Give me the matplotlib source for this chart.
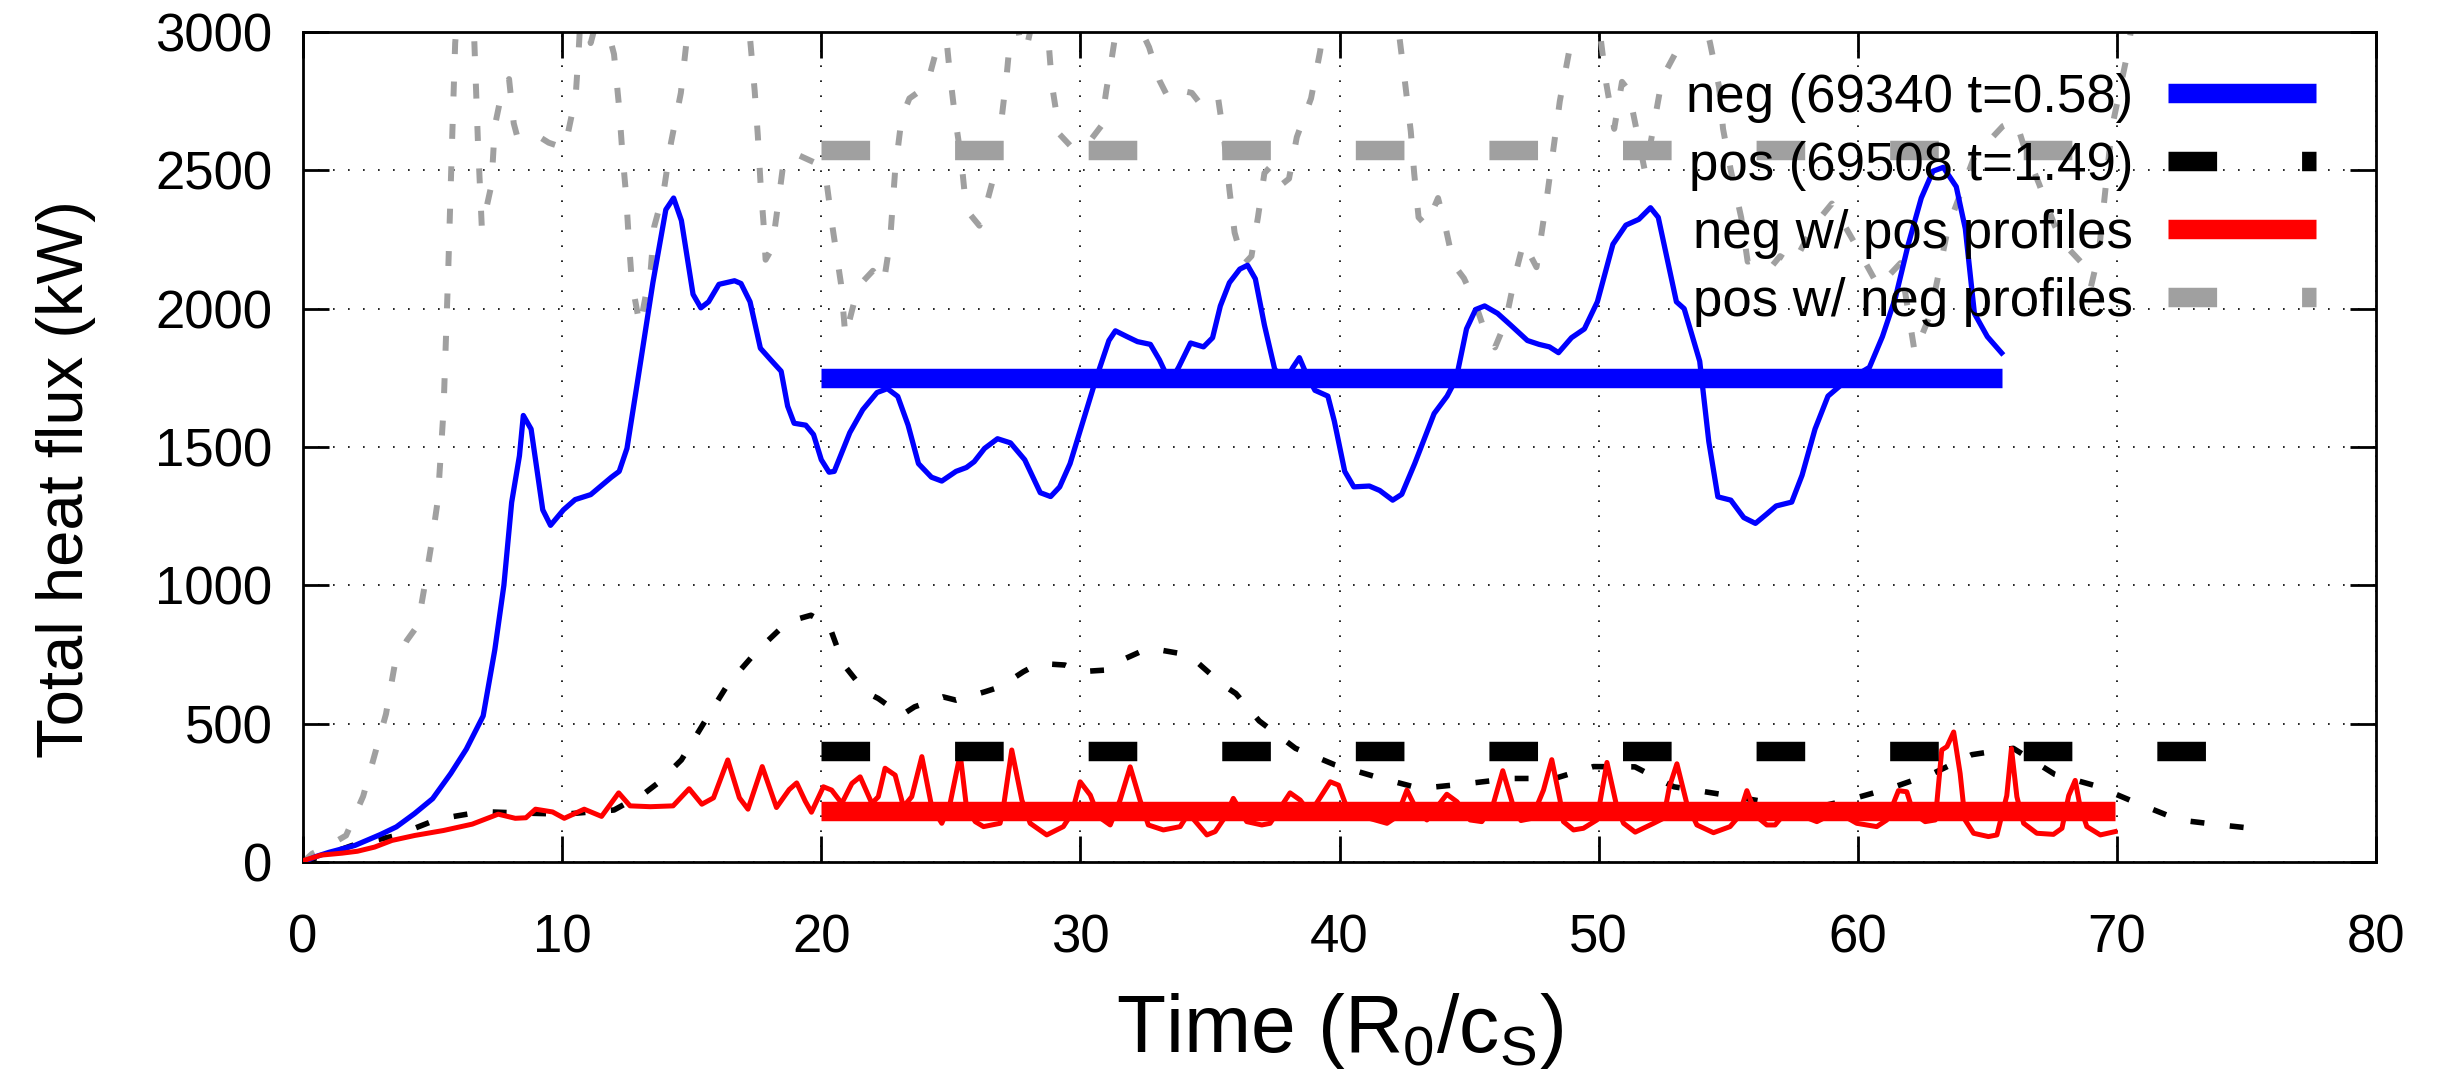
import numpy as np
import matplotlib
matplotlib.use('Agg')
import matplotlib.pyplot as plt

plt.rcParams['font.family'] = ['Liberation Sans', 'DejaVu Sans']

# neg discharge (blue)
neg_t = [0.0, 0.5, 1.0, 2.0, 3.0, 3.6, 4.3, 5.0, 5.7, 6.3, 6.95, 7.4, 7.75, 8.05, 8.35, 8.5,
         8.8, 9.25, 9.55, 10.05, 10.5, 11.1, 11.9, 12.2, 12.5, 12.9, 13.5, 14.0, 14.3, 14.6,
         15.05, 15.35, 15.65, 16.05, 16.65, 16.9, 17.25, 17.65, 18.05, 18.45, 18.7, 18.95,
         19.4, 19.7, 20.0, 20.3, 20.5, 21.1, 21.6, 22.15, 22.55, 22.95, 23.35, 23.75, 24.25,
         24.65, 25.2, 25.6, 25.9, 26.3, 26.8, 27.3, 27.85, 28.45, 28.85, 29.2, 29.6, 30.1,
         30.6, 31.1, 31.35, 31.8, 32.2, 32.7, 33.05, 33.35, 33.5, 33.8, 34.25, 34.75, 35.1,
         35.4, 35.75, 36.15, 36.45, 36.75, 37.1, 37.5, 37.95, 38.2, 38.45, 38.7, 39.05, 39.55,
         39.8, 40.2, 40.55, 41.15, 41.55, 42.05, 42.4, 42.9, 43.65, 44.15, 44.5, 44.9, 45.25,
         45.6, 46.1, 46.6, 47.25, 47.7, 48.1, 48.45, 48.95, 49.45, 49.95, 50.55, 51.05, 51.55,
         52.0, 52.3, 52.65, 53.0, 53.3, 53.9, 54.25, 54.6, 55.1, 55.6, 56.05, 56.5, 56.85,
         57.45, 57.85, 58.35, 58.85, 59.45, 60.45, 60.95, 61.45, 61.95, 62.45, 62.9, 63.3,
         63.8, 64.15, 64.5, 65.0, 65.55]
neg_q = [0, 20, 35, 60, 100, 127, 175, 229, 320, 408, 528, 767, 1000, 1300, 1468, 1614,
         1565, 1273, 1217, 1273, 1310, 1328, 1391, 1412, 1495, 1732, 2094, 2358, 2400, 2319,
         2052, 2003, 2025, 2088, 2101, 2091, 2025, 1857, 1815, 1774, 1648, 1586,
         1579, 1545, 1454, 1409, 1412, 1552, 1635, 1697, 1711, 1683, 1579, 1440, 1391,
         1377, 1412, 1426, 1447, 1495, 1530, 1515, 1454, 1335, 1321, 1356, 1440, 1593,
         1746, 1885, 1920, 1899, 1881, 1871, 1815, 1755, 1740, 1790, 1876, 1862, 1895,
         2010, 2094, 2143, 2157, 2108, 1941, 1780, 1746, 1788, 1823, 1768, 1705, 1684,
         1593, 1412, 1356, 1359, 1343, 1308, 1329, 1440, 1621, 1684, 1746, 1927, 1997,
         2010, 1983, 1941, 1885, 1871, 1862, 1841, 1895, 1927, 2025, 2233, 2302, 2323,
         2365, 2330, 2177, 2025, 2000, 1810, 1520, 1320, 1308, 1245, 1224, 1259, 1287,
         1301, 1398, 1565, 1684, 1732, 1788, 1899, 2039, 2233, 2400, 2497, 2511,
         2441, 2289, 1983, 1899, 1840]

# pos discharge (black dashed)
pos_t = [0.0, 1.0, 1.9, 3.6, 5.2, 6.9, 8.5, 10.1, 12.0, 13.2, 13.7, 14.6, 15.6, 16.4, 17.5,
         18.7, 19.6, 20.3, 20.85, 21.7, 22.2, 23.1, 23.6, 24.7, 25.2, 26.3, 26.9, 27.8, 28.4,
         29.4, 30.0, 31.0, 31.6, 32.6, 33.1, 34.2, 34.7, 35.5, 36.0, 36.9, 38.3, 39.8, 41.4,
         43.1, 44.8, 46.6, 48.3, 49.8, 51.4, 52.9, 54.7, 56.4, 57.5, 58.5, 59.6, 61.3, 62.9,
         64.4, 66.0, 67.6, 69.2, 70.8, 72.4, 74.0, 75.8]
pos_q = [0, 30, 60, 96, 155, 182, 177, 173, 188, 250, 286, 369, 523, 643, 761,
         868, 892, 856, 715, 615, 591, 531, 561, 597, 585, 615, 633, 688, 718,
         712, 688, 694, 730, 772, 766, 748, 706, 640, 609, 510, 411, 352, 308,
         266, 282, 302, 302, 345, 344, 272, 245, 218, 195, 200, 223, 268, 320,
         388, 411, 317, 275, 212, 152, 134, 116]

# neg w/ pos profiles (red)
negpos_t = [0.0, 0.7, 1.5, 2.1, 2.76, 3.43, 4.31, 5.42, 6.53, 7.53, 8.19, 8.6, 8.97, 9.63,
            10.08, 10.85, 11.52, 12.18, 12.62, 13.4, 14.28, 14.9, 15.39, 15.84, 16.39, 16.84,
            17.17, 17.72, 18.27, 18.76, 19.05, 19.38, 19.62, 20.08, 20.4, 20.79, 21.18, 21.5,
            21.95, 22.2, 22.46, 22.85, 23.17, 23.49, 23.88, 24.26, 24.65, 24.97, 25.36, 25.6,
            25.94, 26.26, 26.9, 27.03, 27.35, 27.74, 28.06, 28.7, 29.34, 29.67, 29.99, 30.38,
            30.7, 31.15, 31.53, 31.92, 32.3, 32.62, 33.2, 33.85, 34.17, 34.88, 35.2, 35.59,
            35.9, 36.42, 37.0, 37.32, 38.09, 38.48, 38.86, 39.64, 39.96, 40.22, 40.92, 41.83,
            42.21, 42.6, 42.98, 43.37, 44.14, 44.53, 45.04, 45.49, 45.94, 46.3, 46.71, 47.0,
            47.42, 47.87, 48.19, 48.51, 48.64, 49.03, 49.41, 49.93, 50.32, 50.7, 50.96, 51.41,
            52.12, 52.5, 52.73, 53.02, 53.4, 53.79, 54.43, 55.07, 55.4, 55.72, 56.1, 56.49,
            56.81, 57.13, 57.77, 58.42, 58.8, 59.4, 59.96, 60.73, 61.12, 61.57, 61.89, 62.15,
            62.6, 62.99, 63.24, 63.44, 63.7, 63.95, 64.14, 64.47, 65.04, 65.37, 65.75, 65.93,
            66.14, 66.4, 66.91, 67.55, 67.88, 68.14, 68.39, 68.58, 68.84, 69.36, 69.93]
negpos_q = [5, 25, 32, 39, 54, 78, 96, 114, 137, 173, 158, 160, 191, 181,
            158, 191, 165, 250, 203, 200, 203, 265, 209, 232, 369, 232,
            191, 345, 197, 262, 286, 220, 180, 272, 260, 212, 284, 308,
            212, 236, 339, 314, 200, 236, 381, 200, 140, 212, 390, 200,
            146, 128, 140, 200, 405, 224, 140, 98, 128, 176, 290, 242,
            164, 134, 224, 344, 224, 134, 116, 128, 176, 98, 110, 164,
            230, 146, 134, 140, 250, 224, 176, 290, 278, 212, 164, 140,
            164, 260, 188, 152, 245, 218, 152, 146, 212, 330, 200, 150,
            158, 260, 370, 224, 146, 116, 122, 152, 360, 200, 140, 108,
            140, 158, 272, 355, 212, 134, 106, 128, 164, 258, 164, 134,
            134, 170, 170, 146, 164, 170, 140, 128, 152, 258, 254, 176,
            146, 152, 405, 417, 470, 320, 152, 104, 92, 98, 240, 410,
            236, 140, 104, 100, 122, 240, 295, 200, 128, 98, 110]

# pos w/ neg profiles (grey dashed), goes off the top of the plot
posneg_t = [0.0, 0.35, 1.0, 1.66, 2.32, 3.2, 3.54, 4.0, 4.43, 4.65, 4.98, 5.2, 5.42, 5.6, 5.74,
            5.87, 6.25, 6.6, 6.75, 6.9, 7.27, 7.4, 7.6, 7.95, 8.13, 8.25, 8.8, 9.48, 10.1,
            10.52, 10.64, 10.85, 11.1, 11.5, 12.0, 12.2, 12.32, 12.47, 12.57, 12.69, 13.0,
            13.42, 13.55, 13.91, 14.2, 14.58, 14.8, 15.5, 16.5, 17.24, 17.43, 17.55, 17.65,
            17.77, 17.85, 18.1, 18.3, 18.55, 19.0, 19.7, 20.2, 20.44, 20.76, 20.93, 21.42,
            21.99, 22.4, 22.65, 22.85, 23.1, 23.4, 24.0, 24.2, 24.6, 24.75, 24.95, 25.15, 25.4,
            25.55, 25.75, 26.1, 26.35, 26.75, 26.95, 27.15, 27.3, 27.45, 27.7, 27.9, 28.3,
            28.75, 28.9, 29.2, 29.6, 30.15, 30.8, 31.0, 31.2, 31.35, 31.9, 32.45, 32.65, 33.05,
            33.4, 33.8, 34.3, 34.55, 34.9, 35.3, 35.55, 35.75, 35.95, 36.3, 36.6, 36.85, 37.1,
            37.3, 37.65, 38.05, 38.35, 38.9, 39.25, 39.5, 40.8, 42.3, 42.55, 42.75, 42.88,
            43.05, 43.35, 43.8, 44.1, 44.4, 44.8, 45.2, 45.6, 46.0, 46.4, 46.8, 47.1, 47.6,
            48.0, 48.5, 48.9, 49.2, 49.7, 50.1, 50.3, 50.6, 50.9, 51.15, 51.8, 52.1, 52.35,
            52.6, 53.0, 53.4, 53.8, 54.3, 54.65, 54.8, 55.1, 55.5, 55.75, 56.2, 56.65, 57.0,
            57.5, 58.3, 59.0, 59.8, 60.8, 61.65, 62.2, 62.8, 63.5, 64.5, 65.6, 66.1, 66.4,
            67.0, 67.6, 68.0, 68.6, 69.0, 69.3, 69.8, 70.4, 70.7]
posneg_q = [0, 30, 60, 96, 238, 535, 714, 800, 856, 975, 1165, 1308, 1632, 2130, 2573,
            2960, 3400, 2990, 2600, 2290, 2447, 2660, 2750, 2830, 2670, 2628, 2640, 2600, 2580,
            2767, 2939, 3300, 2960, 3100, 2920, 2725, 2566, 2407, 2249, 2094, 1937,
            2144, 2296, 2420, 2600, 2780, 2967, 3500, 3500, 2988, 2786, 2626, 2461,
            2309, 2177, 2218, 2356, 2535, 2560, 2530, 2460, 2290, 2090, 1900, 2080,
            2137, 2089, 2240, 2500, 2690, 2760, 2800, 2850, 2990, 3050, 2860, 2700, 2540,
            2400, 2340, 2300, 2370, 2510, 2680, 2840, 2990, 3100, 2950, 2935, 3100,
            2990, 2810, 2630, 2590, 2580, 2660, 2790, 2900, 2990, 3200, 2985, 2945, 2825,
            2760, 2790, 2780, 2750, 2780, 2770, 2610, 2430, 2275, 2160, 2190, 2330, 2490,
            2510, 2440, 2470, 2620, 2760, 2930, 3100, 3400, 2990, 2800, 2640, 2490,
            2330, 2300, 2400, 2290, 2160, 2110, 2030, 1920, 1860, 1950, 2130, 2240, 2150,
            2400, 2750, 2950, 3200, 3300, 2960, 2810, 2650, 2820, 2790, 2490, 2650, 2780,
            2860, 2930, 2990, 3150, 2960, 2800, 2650, 2500, 2330, 2170, 2180, 2150, 2190,
            2160, 2300, 2380, 2250, 2080, 2165, 1840, 1980, 2300, 2550, 2660, 2680, 2590,
            2450, 2300, 2230, 2170, 2080, 2200, 2650, 2920, 3100]

# time averages from t=20 on
labels = ['neg (69340 t=0.58)', 'pos (69508 t=1.49)', 'neg w/ pos profiles', 'pos w/ neg profiles']
avg_q = [1750, 400, 183, 2575]
avg_start = 20

fig = plt.figure(figsize=(24.48, 10.82), dpi=100)
ax = fig.add_axes([0.1238, 0.2033, 0.8468, 0.7671])

thin_dash = (0, (2.5, 4.6))
thick_dash = (0, (2.5, 4.37))

# raw time traces
ax.plot(posneg_t, posneg_q, color='#a0a0a0', lw=4.3, ls=thin_dash, zorder=2)
ax.plot(pos_t, pos_q, color='black', lw=4.0, ls=thin_dash, zorder=2)
ax.plot(neg_t, neg_q, color='#0000ff', lw=3.8, zorder=3)
ax.plot(negpos_t, negpos_q, color='#ff0000', lw=3.6, zorder=3)

# averages as thick lines
series_end = [neg_t[-1], pos_t[-1], negpos_t[-1], posneg_t[-1]]
colors = ['#0000ff', 'black', '#ff0000', '#a0a0a0']
styles = ['-', thick_dash, '-', thick_dash]
for q, end, c, s, lab in zip(avg_q, series_end, colors, styles, labels):
    ax.plot([avg_start, end], [q, q], color=c, lw=14, ls=s, label=lab, zorder=4,
            solid_capstyle='butt')

ax.set_xlim(0, 80)
ax.set_ylim(0, 3000)
ax.set_xticks(np.arange(0, 81, 10))
ax.set_yticks(np.arange(0, 3001, 500))
ax.grid(True, color='black', lw=1.2, ls=(0, (1, 8)))
ax.tick_params(direction='in', length=19, width=2, labelsize=38, top=True, right=True)
ax.tick_params(axis='x', pad=37)
ax.tick_params(axis='y', pad=22)
for sp in ax.spines.values():
    sp.set_linewidth(2)

ax.set_xlabel('Time (R$_\\mathregular{0}$/c$_\\mathregular{S}$)', fontsize=58)
ax.xaxis.set_label_coords(0.5, -0.155)
ax.set_ylabel('Total heat flux (kW)', fontsize=47)
ax.yaxis.set_label_coords(-0.1, 0.462)

leg = ax.legend(loc='upper right', bbox_to_anchor=(0.971, 0.951), frameon=False,
                markerfirst=False, fontsize=38, handlelength=2.8, handletextpad=0.66,
                labelspacing=0.34, borderpad=0, borderaxespad=0)

fig.savefig('out.png', dpi=100)
